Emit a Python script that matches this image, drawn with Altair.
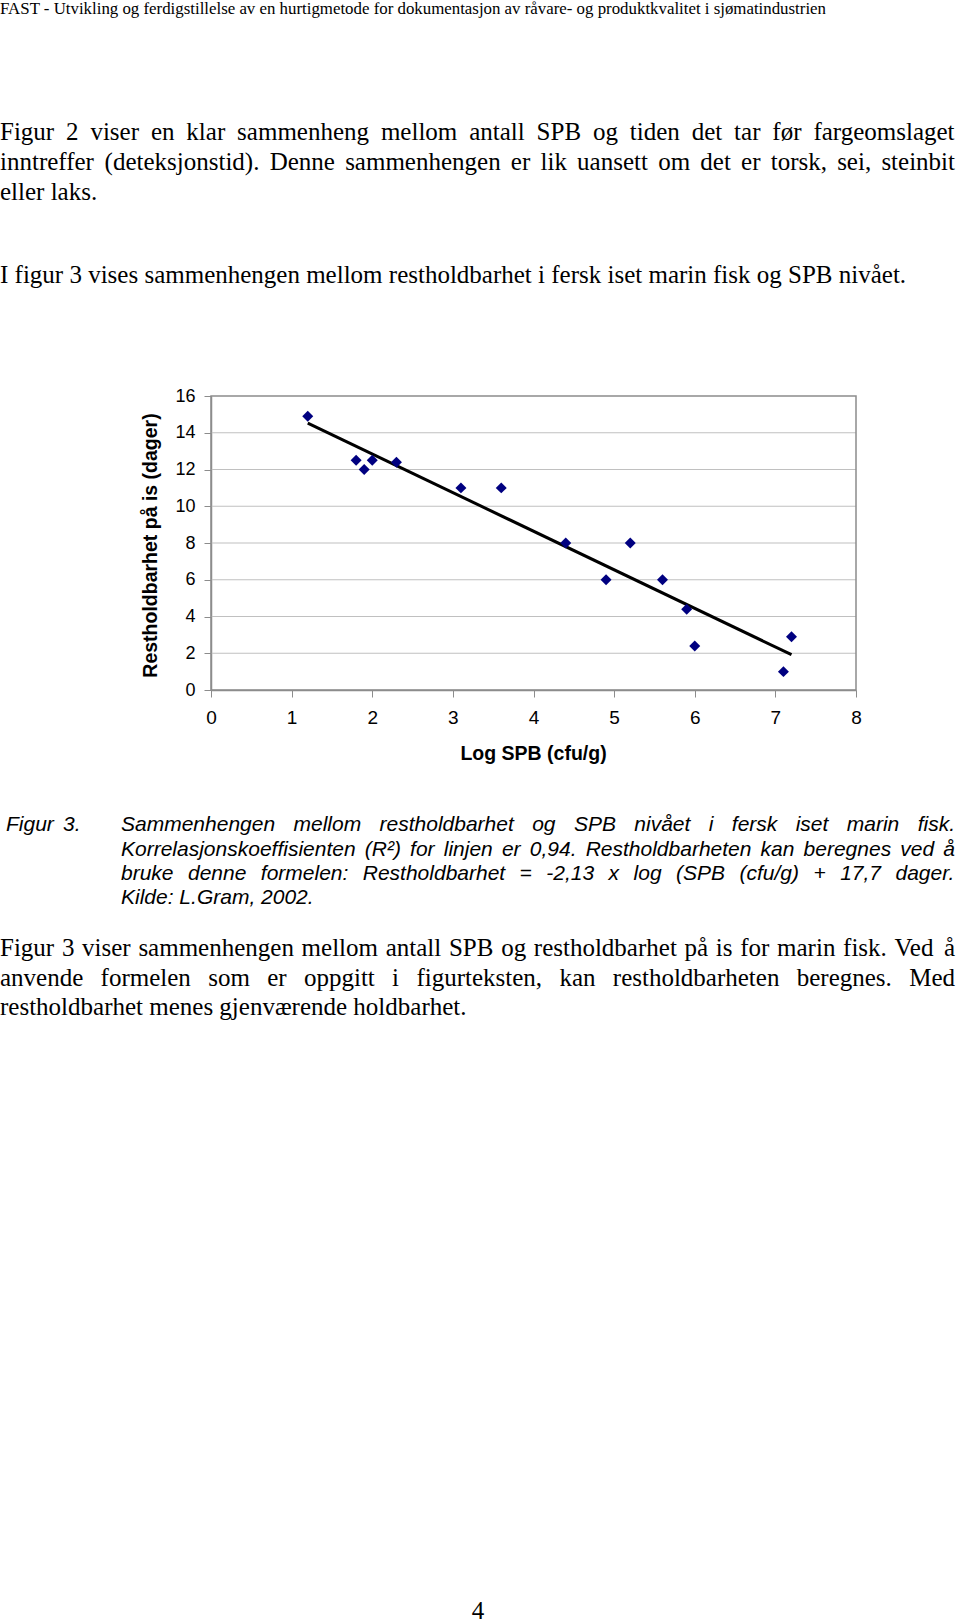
import altair as alt
import pandas as pd

# ---------------- data ----------------
log_spb = [1.2, 1.8, 1.9, 2.0, 2.3, 3.1, 3.6, 4.4, 4.9, 5.2, 5.6, 5.9, 6.0, 7.1, 7.2]
shelf_life = [14.9, 12.5, 12.0, 12.5, 12.4, 11.0, 11.0, 8.0, 6.0, 8.0, 6.0, 4.4, 2.4, 1.0, 2.9]
x_ticks = [0, 1, 2, 3, 4, 5, 6, 7, 8]
y_ticks = [0, 2, 4, 6, 8, 10, 12, 14, 16]
grid_values = [2, 4, 6, 8, 10, 12, 14]
x_title = "Log SPB (cfu/g)"
y_title = "Restholdbarhet på is (dager)"

header = ("FAST - Utvikling og ferdigstillelse av en hurtigmetode for dokumentasjon av "
          "råvare- og produktkvalitet i sjømatindustrien")
p1_lines = [
    "Figur 2 viser en klar sammenheng mellom antall SPB og tiden det tar før fargeomslaget",
    "inntreffer (deteksjonstid). Denne sammenhengen er lik uansett om det er torsk, sei, steinbit",
    "eller laks.",
]
p2_lines = ["I figur 3 vises sammenhengen mellom restholdbarhet i fersk iset marin fisk og SPB nivået."]
caption_label = ["Figur", "3."]
caption_lines = [
    "Sammenhengen mellom restholdbarhet og SPB nivået i fersk iset marin fisk.",
    "Korrelasjonskoeffisienten (R²) for linjen er 0,94. Restholdbarheten kan beregnes ved å",
    "bruke denne formelen: Restholdbarhet = -2,13 x log (SPB (cfu/g) + 17,7 dager.",
    "Kilde: L.Gram, 2002.",
]
p3_lines = [
    "Figur 3 viser sammenhengen mellom antall SPB og restholdbarhet på is for marin fisk. Ved å",
    "anvende formelen som er oppgitt i figurteksten, kan restholdbarheten beregnes. Med",
    "restholdbarhet menes gjenværende holdbarhet.",
]
page_number = "4"

# ---------------- font metrics (Times / Arial compatible) ----------------
TIMES = dict(zip("abcdefghijklmnopqrstuvwxyz",
                 [444, 500, 444, 500, 444, 333, 500, 500, 278, 278, 500, 278, 778,
                  500, 500, 500, 500, 333, 389, 278, 500, 500, 722, 500, 500, 444]))
TIMES.update(dict(zip("ABCDEFGHIJKLMNOPQRSTUVWXYZ",
                      [722, 667, 667, 722, 611, 556, 722, 722, 333, 389, 722, 611, 889,
                       722, 722, 556, 722, 667, 556, 611, 722, 722, 944, 722, 722, 611])))
TIMES.update({c: 500 for c in "0123456789"})
TIMES.update({" ": 250, ".": 250, ",": 250, "(": 333, ")": 333, "-": 333, ":": 278,
              "/": 278, "=": 564, "+": 564, "å": 444, "æ": 667, "ø": 500})
ARIAL = dict(zip("abcdefghijklmnopqrstuvwxyz",
                 [556, 556, 500, 556, 556, 278, 556, 556, 222, 222, 500, 222, 833,
                  556, 556, 556, 556, 333, 500, 278, 556, 500, 722, 500, 500, 500]))
ARIAL.update(dict(zip("ABCDEFGHIJKLMNOPQRSTUVWXYZ",
                      [667, 667, 722, 722, 667, 611, 778, 722, 278, 500, 667, 556, 833,
                       722, 778, 667, 778, 722, 667, 611, 722, 667, 944, 667, 667, 611])))
ARIAL.update({c: 556 for c in "0123456789"})
ARIAL.update({" ": 278, ".": 278, ",": 278, "(": 333, ")": 333, "-": 333, ":": 278,
              "/": 278, "=": 584, "+": 584, "å": 556, "æ": 889, "ø": 611, "²": 333})


def em(text, table):
    return sum(table.get(c, 500) for c in text) / 1000.0


def layout(lines, baselines, left, right, size, table, justify_last=False):
    rows = []
    for i, (line, base) in enumerate(zip(lines, baselines)):
        last = i == len(lines) - 1
        if last and not justify_last:
            rows.append({"t": line, "px": left, "py": base})
            continue
        words = line.split(" ")
        widths = [em(w, table) * size for w in words]
        gap = (right - left - sum(widths)) / (len(words) - 1)
        x = left
        for w, wd in zip(words, widths):
            rows.append({"t": w, "px": x, "py": base})
            x += wd + gap
    return rows


RIGHT = 955
BODY = 25
header_size = 828 / em(header, TIMES)
cap_size = min(21, (RIGHT - 121) / em(caption_lines[1], ARIAL) * 0.985)

header_rows = [{"t": header, "px": 0, "py": 14}]
body_rows = (layout(p1_lines, [140, 170, 200], 0, RIGHT, BODY, TIMES)
             + layout(p2_lines, [283], 0, RIGHT, BODY, TIMES)
             + layout(p3_lines, [956, 986, 1015], 0, RIGHT, BODY, TIMES))
cap_rows = ([{"t": caption_label[0], "px": 6, "py": 831}, {"t": caption_label[1], "px": 63, "py": 831}]
            + layout(caption_lines, [831, 855.5, 879.5, 903.5], 121, RIGHT, cap_size, ARIAL))
page_rows = [{"t": page_number, "px": 478, "py": 1619}]

PX = alt.X("px:Q", scale=None, axis=None)
PY = alt.Y("py:Q", scale=None, axis=None)


def text_layer(rows, **kw):
    return alt.Chart(pd.DataFrame(rows)).mark_text(baseline="alphabetic", color="black", **kw).encode(
        x=PX, y=PY, text="t:N")


header_layer = text_layer(header_rows, align="left", font="Liberation Serif", fontSize=header_size)
body_layer = text_layer(body_rows, align="left", font="Liberation Serif", fontSize=BODY)
cap_layer = text_layer(cap_rows, align="left", font="Liberation Sans", fontStyle="italic", fontSize=cap_size)
page_layer = text_layer(page_rows, align="center", font="Liberation Serif", fontSize=BODY)

# ---------------- scatter chart ----------------
XS = alt.Scale(domain=[0, 8], range=[211, 856], nice=False, zero=False)
YS = alt.Scale(domain=[0, 16], range=[690, 396], nice=False, zero=False)

pts = pd.DataFrame({"x": log_spb, "y": shelf_life})
grid = pd.DataFrame({"g": grid_values, "x0": x_ticks[0], "x1": x_ticks[-1]})
frame = pd.DataFrame({"x0": [x_ticks[0]], "x1": [x_ticks[-1]], "y0": [y_ticks[0]], "y1": [y_ticks[-1]]})

grid_layer = alt.Chart(grid).mark_rule(color="#c0c0c0", strokeWidth=1.2).encode(
    x=alt.X("x0:Q", scale=XS, axis=None), x2="x1:Q",
    y=alt.Y("g:Q", scale=YS, axis=None))

frame_layer = alt.Chart(frame).mark_rect(fill=None, stroke="#8c8c8c", strokeWidth=1.5).encode(
    x=alt.X("x0:Q", scale=XS, axis=None), x2="x1:Q",
    y=alt.Y("y0:Q", scale=YS, axis=None), y2="y1:Q")

trend_layer = alt.Chart(pts).transform_regression("x", "y").mark_line(
    color="black", strokeWidth=3).encode(
    x=alt.X("x:Q", scale=XS, axis=None),
    y=alt.Y("y:Q", scale=YS, axis=None))

point_layer = alt.Chart(pts).mark_point(
    shape="diamond", filled=True, size=120, color="#000080", opacity=1).encode(
    x=alt.X("x:Q", scale=XS, axis=alt.Axis(
        values=x_ticks, orient="bottom", offset=-934, grid=False,
        domainColor="#8c8c8c", domainWidth=1.5, tickColor="#8c8c8c", tickSize=7,
        labelFont="Liberation Sans", labelFontSize=19, labelColor="black", labelPadding=11,
        labelFlush=False, title=x_title, titleFont="Liberation Sans", titleFontSize=19.5,
        titleFontWeight="bold", titleColor="black", titleX=533, titleY=63,
        titleAlign="center", titleBaseline="middle")),
    y=alt.Y("y:Q", scale=YS, axis=alt.Axis(
        values=y_ticks, orient="left", offset=-211, grid=False,
        domainColor="#8c8c8c", domainWidth=1.5, tickColor="#8c8c8c", tickSize=7,
        labelFont="Liberation Sans", labelFontSize=18, labelColor="black", labelPadding=9,
        labelFlush=False, title=y_title, titleFont="Liberation Sans", titleFontSize=19.5,
        titleFontWeight="bold", titleColor="black", titleX=-61, titleY=545,
        titleAngle=270, titleAlign="center", titleBaseline="middle")))

chart = alt.layer(
    header_layer, body_layer, cap_layer, page_layer,
    grid_layer, frame_layer, trend_layer, point_layer,
).resolve_scale(x="independent", y="independent").resolve_axis(
    x="independent", y="independent"
).properties(
    width=960, height=1624, padding=0,
    autosize=alt.AutoSizeParams(type="none"),
    background="white",
).configure_view(stroke=None)

chart.save("out.html", embed_options={"renderer": "svg", "actions": False})
